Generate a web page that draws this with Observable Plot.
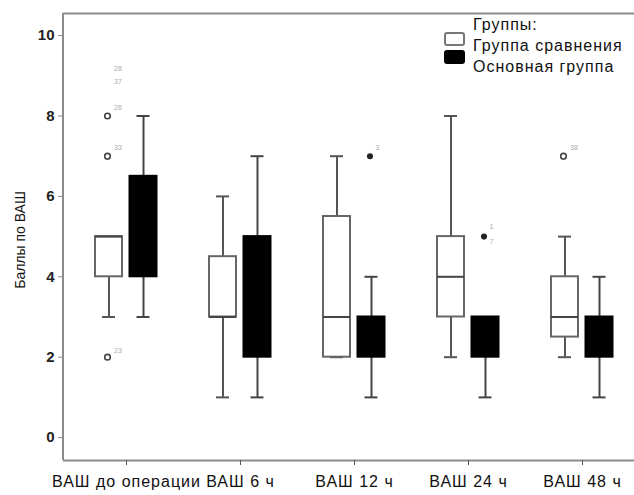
<!DOCTYPE html>
<html>
<head>
<meta charset="utf-8">
<script src="https://cdn.jsdelivr.net/npm/d3@7"></script>
<script src="https://cdn.jsdelivr.net/npm/@observablehq/plot@0.6"></script>
<style>
  html, body { margin: 0; padding: 0; background: #fff; overflow: hidden; }
  #wrap { position: relative; width: 634px; height: 495px; overflow: hidden; font-family: "Liberation Sans", Arial, sans-serif; }
  #legend { position: absolute; left: 0; top: 0; color: #111; font-size: 16px; letter-spacing: 1px; }
  #legend .t { position: absolute; white-space: nowrap; }
  #legend .sw { position: absolute; width: 17px; height: 10px; border-radius: 3px; }
  #edge { position: absolute; left: 628px; top: 15px; width: 6px; height: 444px; background: #fff; }
  #chart svg g[aria-label="y-axis tick"] { stroke: #8c8c8c; }
  #chart svg g[aria-label="y-axis tick label"] { font-weight: bold; }
  #chart svg g[aria-label="x-axis tick"] { stroke: #555; }
  #chart svg g[aria-label="x-axis tick label"] { letter-spacing: 1px; }
</style>
</head>
<body>
<div id="wrap">
  <div id="chart"></div>
  <div id="edge"></div>
  <div id="legend"></div>
</div>
<script>
// ---------- data ----------
const categories = ["ВАШ до операции", "ВАШ 6 ч", "ВАШ 12 ч", "ВАШ 24 ч", "ВАШ 48 ч"];
const groups = ["Группа сравнения", "Основная группа"];
const legendTitle = "Группы:";
const yLabel = "Баллы по ВАШ";
const yTicks = [0, 2, 4, 6, 8, 10];
const yDomain = [-0.57, 10.55];

// Группа сравнения (white boxes)
const cmpMin    = [3, 1, 2, 2, 2];
const cmpQ1     = [4, 3, 2, 3, 2.5];
const cmpMedian = [5, 3, 3, 4, 3];
const cmpQ3     = [5, 4.5, 5.5, 5, 4];
const cmpMax    = [5, 6, 7, 8, 5];

// Основная группа (black boxes)
const mainMin    = [3, 1, 1, 1, 1];
const mainQ1     = [4, 2, 2, 2, 2];
const mainMedian = [5, 4, 3, 3, 3];
const mainQ3     = [6.5, 5, 3, 3, 3];
const mainMax    = [8, 7, 4, 3, 4];

// outliers: category index, value
const cmpOutlierCat = [0, 0, 0, 4];
const cmpOutlierVal = [8, 7, 2, 7];
const mainOutlierCat = [2, 3];
const mainOutlierVal = [7, 5];

// case-number labels of outliers: category index, value position, text
const cmpLabelCat  = [0, 0, 0, 0, 0, 4];
const cmpLabelVal  = [9.18, 8.86, 8.2, 7.2, 2.15, 7.2];
const cmpLabelText = ["28", "37", "26", "33", "23", "38"];
const mainLabelCat  = [2, 3, 3];
const mainLabelVal  = [7.2, 5.25, 4.88];
const mainLabelText = ["3", "1", "7"];

// ---------- tables ----------
const cmpRows = categories.map((c, i) => ({category: c, min: cmpMin[i], q1: cmpQ1[i], median: cmpMedian[i], q3: cmpQ3[i], max: cmpMax[i]}));
const mainRows = categories.map((c, i) => ({category: c, min: mainMin[i], q1: mainQ1[i], median: mainMedian[i], q3: mainQ3[i], max: mainMax[i]}));
const cmpOut = cmpOutlierCat.map((k, i) => ({category: categories[k], value: cmpOutlierVal[i]}));
const mainOut = mainOutlierCat.map((k, i) => ({category: categories[k], value: mainOutlierVal[i]}));
const cmpLab = cmpLabelCat.map((k, i) => ({category: categories[k], value: cmpLabelVal[i], text: cmpLabelText[i]}));
const mainLab = mainLabelCat.map((k, i) => ({category: categories[k], value: mainLabelVal[i], text: mainLabelText[i]}));

// ---------- styling ----------
const W = 634, mL = 63;
const bandW = 114, boxW = 27, capW = 13;
const boxInset = (bandW - boxW) / 2;
const capInset = (bandW - capW) / 2;
const offCmp = -17.5, offMain = 17;
const frameColor = "#8c8c8c";

function boxMarks(rows, dx, fill, boxStroke, whisker, medianStroke) {
  return [
    Plot.ruleX(rows, {x: "category", y1: "min", y2: "q1", dx, stroke: whisker, strokeWidth: 2}),
    Plot.ruleX(rows, {x: "category", y1: "q3", y2: "max", dx, stroke: whisker, strokeWidth: 2}),
    Plot.tickY(rows, {x: "category", y: "min", dx, insetLeft: capInset, insetRight: capInset, stroke: whisker, strokeWidth: 2}),
    Plot.tickY(rows, {x: "category", y: "max", dx, insetLeft: capInset, insetRight: capInset, stroke: whisker, strokeWidth: 2}),
    Plot.barY(rows, {x: "category", y1: "q1", y2: "q3", dx, insetLeft: boxInset, insetRight: boxInset, fill, stroke: boxStroke, strokeWidth: 2}),
    Plot.tickY(rows, {x: "category", y: "median", dx, insetLeft: boxInset, insetRight: boxInset, stroke: medianStroke, strokeWidth: 2})
  ];
}

const chart = Plot.plot({
  width: W,
  height: 495,
  marginLeft: mL,
  marginRight: 0,
  marginTop: 13,
  marginBottom: 35,
  style: {fontFamily: '"Liberation Sans", Arial, sans-serif', background: "#fff", color: "#111"},
  x: {type: "band", domain: categories, range: [69, 639], padding: 0},
  y: {domain: yDomain},
  marks: [
    Plot.ruleY([yDomain[1]], {stroke: frameColor, strokeWidth: 2}),
    Plot.ruleY([yDomain[0]], {stroke: frameColor, strokeWidth: 2}),
    Plot.rect([yDomain], {y1: d => d[0], y2: d => d[1], insetRight: W - mL - 2, dx: -1, fill: frameColor}),
    Plot.axisY({ticks: yTicks, tickSize: 5, tickPadding: 4, fontSize: 15, label: null, color: "#222"}),
    Plot.axisX({tickSize: 5, tickPadding: 10, fontSize: 16, label: null, color: "#111"}),
    Plot.text([yLabel], {frameAnchor: "left", textAnchor: "middle", dx: -43, dy: 3, rotate: -90, fontSize: 14, fill: "#111"}),
    ...boxMarks(cmpRows, offCmp, "#fff", "#666", "#555", "#444"),
    ...boxMarks(mainRows, offMain, "#000", "#000", "#444", "#000"),
    Plot.dot(cmpOut, {x: "category", y: "value", dx: offCmp - 1.5, r: 2.8, stroke: "#444", strokeWidth: 1.6, fill: "#fff"}),
    Plot.dot(mainOut, {x: "category", y: "value", dx: offMain - 1.5, r: 2.3, stroke: "#222", fill: "#222"}),
    Plot.text(cmpLab, {x: "category", y: "value", text: "text", dx: offCmp + 5, textAnchor: "start", fontSize: 7, fill: "#aaa"}),
    Plot.text(mainLab, {x: "category", y: "value", text: "text", dx: offMain + 4, textAnchor: "start", fontSize: 7, fill: "#aaa"})
  ]
});
document.getElementById("chart").appendChild(chart);

// ---------- legend (inside plot area) ----------
const legend = document.getElementById("legend");
function addText(txt, left, top) {
  const d = document.createElement("div");
  d.className = "t"; d.textContent = txt;
  d.style.left = left + "px"; d.style.top = top + "px";
  legend.appendChild(d);
}
function addSwatch(left, top, fill, stroke) {
  const d = document.createElement("div");
  d.className = "sw";
  d.style.left = left + "px"; d.style.top = top + "px";
  d.style.background = fill; d.style.border = "2px solid " + stroke;
  legend.appendChild(d);
}
addText(legendTitle, 473, 16);
addSwatch(444, 32, "#fff", "#777");
addText(groups[0], 473, 37);
addSwatch(444, 50, "#000", "#000");
addText(groups[1], 473, 58);
</script>
</body>
</html>
